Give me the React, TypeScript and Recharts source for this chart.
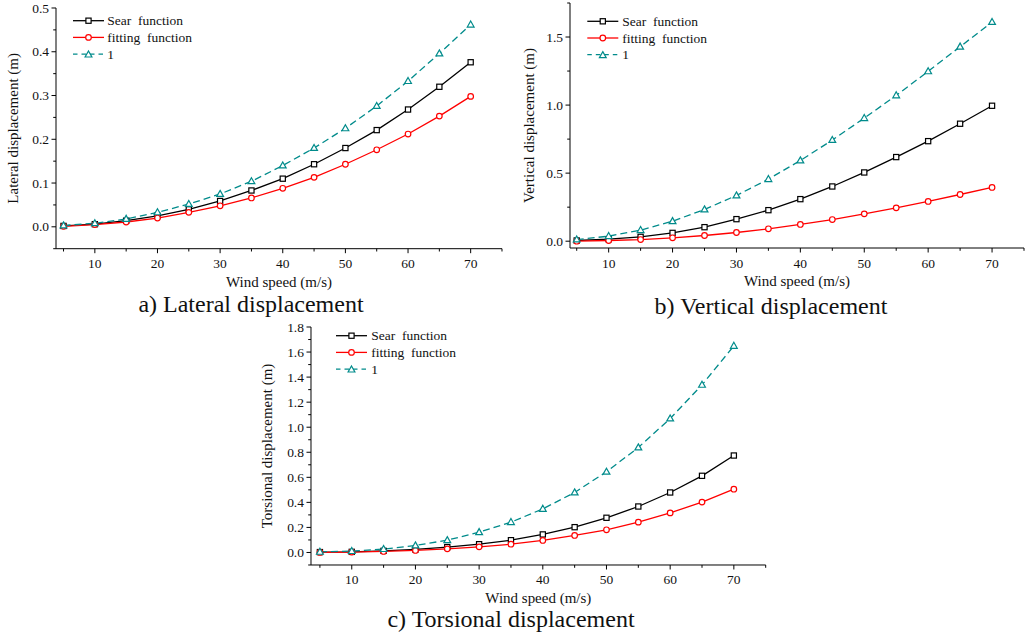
import { LineChart, Line, XAxis, YAxis } from "recharts";

const windSpeed = [5, 10, 15, 20, 25, 30, 35, 40, 45, 50, 55, 60, 65, 70];

// a) lateral
const lateralSear = [0.002, 0.006, 0.014, 0.025, 0.04, 0.059, 0.083, 0.11, 0.143, 0.18, 0.221, 0.268, 0.32, 0.376];
const lateralFit = [0.001, 0.005, 0.011, 0.02, 0.033, 0.048, 0.066, 0.088, 0.113, 0.143, 0.176, 0.212, 0.253, 0.298];
const lateralOne = [0.003, 0.008, 0.018, 0.033, 0.052, 0.075, 0.104, 0.14, 0.18, 0.225, 0.276, 0.333, 0.396, 0.462];

// b) vertical
const verticalSear = [0.005, 0.015, 0.032, 0.061, 0.103, 0.162, 0.228, 0.309, 0.402, 0.505, 0.618, 0.735, 0.863, 0.995];
const verticalFit = [0, 0.005, 0.012, 0.025, 0.042, 0.064, 0.091, 0.123, 0.159, 0.201, 0.245, 0.292, 0.343, 0.395];
const verticalOne = [0.012, 0.037, 0.081, 0.147, 0.233, 0.336, 0.456, 0.593, 0.743, 0.904, 1.071, 1.248, 1.429, 1.61];

// c) torsional
const torsionSear = [0.003, 0.005, 0.013, 0.024, 0.043, 0.066, 0.098, 0.144, 0.202, 0.277, 0.367, 0.479, 0.612, 0.774];
const torsionFit = [0, 0.003, 0.008, 0.016, 0.029, 0.045, 0.066, 0.096, 0.136, 0.181, 0.242, 0.316, 0.402, 0.505];
const torsionOne = [0.005, 0.011, 0.027, 0.056, 0.098, 0.162, 0.242, 0.348, 0.479, 0.644, 0.838, 1.069, 1.338, 1.649];

const xTicks = [5, 10, 15, 20, 25, 30, 35, 40, 45, 50, 55, 60, 65, 70, 75];
const yTicksA = [-0.05, 0, 0.05, 0.1, 0.15, 0.2, 0.25, 0.3, 0.35, 0.4, 0.45, 0.5];
const yTicksB = [0, 0.25, 0.5, 0.75, 1.0, 1.25, 1.5, 1.75];
const yTicksC = [-0.1, 0, 0.1, 0.2, 0.3, 0.4, 0.5, 0.6, 0.7, 0.8, 0.9, 1.0, 1.1, 1.2, 1.3, 1.4, 1.5, 1.6, 1.7, 1.8];

const seriesNames = ["Sear  function", "fitting  function", "1"];

const FONT = "'Liberation Serif', 'Times New Roman', serif";
const TEAL = "#008b8b";
const RED = "#ff0000";

const rows = (a: number[], b: number[], c: number[]) =>
  windSpeed.map((w, i) => ({ w, sear: a[i], fit: b[i], one: c[i] }));

const isMajor = (v: number, step: number) => Math.abs(v / step - Math.round(v / step)) < 1e-6;

const XTick = (props: any) => {
  const { x, y, payload } = props;
  const major = isMajor(payload.value, 10);
  return (
    <g>
      <line x1={x} y1={y} x2={x} y2={y + (major ? 4.5 : 2.8)} stroke="#000" strokeWidth={1} />
      {major && (
        <text x={x} y={y + 19.5} textAnchor="middle" fontSize={13.5} fontFamily={FONT} fill="#111">
          {payload.value}
        </text>
      )}
    </g>
  );
};

const makeYTick = (step: number) => (props: any) => {
  const { x, y, payload } = props;
  const major = isMajor(payload.value, step);
  return (
    <g>
      <line x1={x} y1={y} x2={x - (major ? 4.5 : 2.8)} y2={y} stroke="#000" strokeWidth={1} />
      {major && (
        <text x={x - 7} y={y + 4.6} textAnchor="end" fontSize={13.5} fontFamily={FONT} fill="#111">
          {payload.value.toFixed(1)}
        </text>
      )}
    </g>
  );
};

const squareDot = (p: any) => (
  <rect key={`s${p.index}`} x={p.cx - 2.6} y={p.cy - 2.6} width={5.2} height={5.2} fill="#fff" stroke="#000" strokeWidth={1.2} />
);
const circleDot = (p: any) => (
  <circle key={`c${p.index}`} cx={p.cx} cy={p.cy} r={2.8} fill="#fff" stroke={RED} strokeWidth={1.2} />
);
const triDot = (p: any) => (
  <path
    key={`t${p.index}`}
    d={`M${p.cx},${p.cy - 3.6} L${p.cx + 3.4},${p.cy + 2.4} L${p.cx - 3.4},${p.cy + 2.4} Z`}
    fill="#fff"
    stroke={TEAL}
    strokeWidth={1.2}
    strokeDasharray="none"
  />
);

type PanelProps = {
  data: any[];
  left: number;
  top: number;
  yw: number;
  plotW: number;
  plotH: number;
  tm: number;
  xDomain: [number, number];
  yDomain: [number, number];
  yTicks: number[];
  yStep: number;
  yLabel: string;
  yLabelX: number;
  xLabelBase: number;
};

function Panel(p: PanelProps) {
  const xh = 46;
  return (
    <div style={{ position: "absolute", left: p.left, top: p.top }}>
      <LineChart
        width={p.yw + p.plotW + 6}
        height={p.tm + p.plotH + xh}
        data={p.data}
        margin={{ top: p.tm, right: 6, left: 0, bottom: 0 }}
      >
        <XAxis
          dataKey="w"
          type="number"
          domain={p.xDomain}
          ticks={xTicks}
          interval={0}
          height={xh}
          tickSize={0}
          tickMargin={0}
          tickLine={false}
          tick={XTick}
          stroke="#000"
          label={{
            value: "Wind speed (m/s)",
            position: "insideBottom",
            offset: xh - p.xLabelBase,
            fontSize: 15,
            fontFamily: FONT,
            fill: "#111",
          }}
        />
        <YAxis
          type="number"
          domain={p.yDomain}
          ticks={p.yTicks}
          interval={0}
          width={p.yw}
          tickSize={0}
          tickMargin={0}
          tickLine={false}
          tick={makeYTick(p.yStep)}
          stroke="#000"
          label={{
            value: p.yLabel,
            angle: -90,
            position: "insideLeft",
            offset: p.yLabelX,
            fontSize: 15,
            fontFamily: FONT,
            fill: "#111",
            style: { textAnchor: "middle", whiteSpace: "pre" },
          }}
        />
        <Line dataKey="sear" stroke="#000" strokeWidth={1.3} dot={squareDot} isAnimationActive={false} />
        <Line dataKey="fit" stroke={RED} strokeWidth={1.3} dot={circleDot} isAnimationActive={false} />
        <Line dataKey="one" stroke={TEAL} strokeWidth={1.3} strokeDasharray="7 4" dot={triDot} isAnimationActive={false} />
      </LineChart>
    </div>
  );
}

function LegendBox({ x, y, textX }: { x: number; y: number; textX: number }) {
  const step = 16.7;
  const cx = x + 15.5;
  return (
    <g>
      {seriesNames.map((name, i) => {
        const yy = y + i * step;
        return (
          <g key={name}>
            {i === 0 && <line x1={x} y1={yy} x2={x + 31} y2={yy} stroke="#000" strokeWidth={1.3} />}
            {i === 1 && <line x1={x} y1={yy} x2={x + 31} y2={yy} stroke={RED} strokeWidth={1.3} />}
            {i === 2 && <line x1={x} y1={yy} x2={x + 31} y2={yy} stroke={TEAL} strokeWidth={1.3} strokeDasharray="4.5 4" />}
            {i === 0 && squareDot({ cx, cy: yy, index: 0 })}
            {i === 1 && circleDot({ cx, cy: yy, index: 0 })}
            {i === 2 && triDot({ cx, cy: yy + 0.5, index: 0 })}
            <text x={textX} y={yy + 4.6} fontSize={13.5} fontFamily={FONT} fill="#111" style={{ whiteSpace: "pre" }}>
              {name}
            </text>
          </g>
        );
      })}
    </g>
  );
}

export default function App() {
  return (
    <div style={{ position: "absolute", left: 0, top: 0, width: 1032, height: 638, background: "#fff", overflow: "hidden" }}>
      <Panel
        data={rows(lateralSear, lateralFit, lateralOne)}
        left={0}
        top={-1.7}
        yw={56}
        plotW={446}
        plotH={240.7}
        tm={10}
        xDomain={[3.8, 75]}
        yDomain={[-0.05, 0.5]}
        yTicks={yTicksA}
        yStep={0.1}
        yLabel="Lateral  displacement (m)"
        yLabelX={12.7}
        xLabelBase={38.5}
      />
      <Panel
        data={rows(verticalSear, verticalFit, verticalOne)}
        left={515}
        top={-6.7}
        yw={55}
        plotW={454}
        plotH={245}
        tm={10}
        xDomain={[3.95, 75]}
        yDomain={[-0.05, 1.75]}
        yTicks={yTicksB}
        yStep={0.5}
        yLabel="Vertical  displacement (m)"
        yLabelX={13.3}
        xLabelBase={37.7}
      />
      <Panel
        data={rows(torsionSear, torsionFit, torsionOne)}
        left={250}
        top={315}
        yw={61}
        plotW={454.7}
        plotH={238}
        tm={12}
        xDomain={[3.6, 75]}
        yDomain={[-0.1, 1.8]}
        yTicks={yTicksC}
        yStep={0.2}
        yLabel="Torsional displacement (m)"
        yLabelX={16.7}
        xLabelBase={38}
      />
      <svg width={1032} height={638} style={{ position: "absolute", left: 0, top: 0, pointerEvents: "none" }}>
        <LegendBox x={73} y={20.7} textX={107.3} />
        <LegendBox x={587.3} y={21.3} textX={622.3} />
        <LegendBox x={336} y={335.7} textX={371.3} />
        <text x={251} y={312} textAnchor="middle" fontSize={24} fontFamily={FONT} fill="#111">
          a) Lateral displacement
        </text>
        <text x={771} y={313.5} textAnchor="middle" fontSize={24} fontFamily={FONT} fill="#111">
          b) Vertical displacement
        </text>
        <text x={511} y={627} textAnchor="middle" fontSize={24} fontFamily={FONT} fill="#111">
          c) Torsional displacement
        </text>
      </svg>
    </div>
  );
}
